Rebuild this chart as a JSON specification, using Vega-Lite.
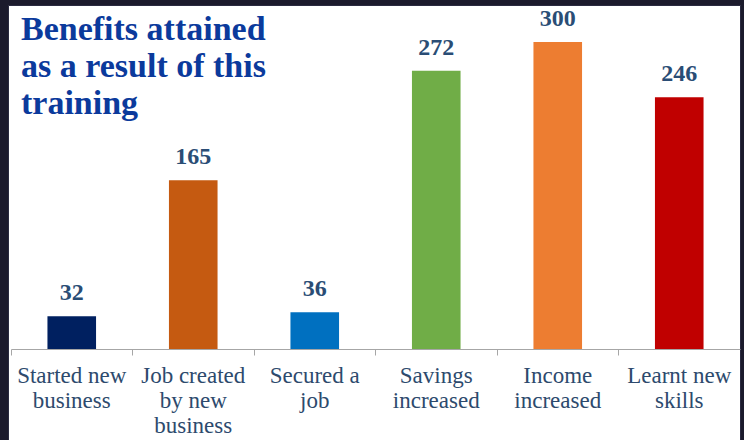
{
  "$schema": "https://vega.github.io/schema/vega-lite/v6.json",
  "autosize": {"type": "none"},
  "padding": {"left": 8, "top": 5, "right": 4, "bottom": 0},
  "width": 732,
  "height": 435,
  "background": "#1b1a2c",
  "config": {
    "view": {"fill": "#ffffff", "stroke": "#2a2a40", "strokeWidth": 1}
  },
  "title": {
    "text": ["Benefits attained", "as a result of this", "training"],
    "anchor": "start",
    "frame": "group",
    "orient": "top",
    "baseline": "top",
    "offset": 0,
    "dx": 13,
    "dy": 116,
    "font": "Liberation Serif",
    "fontSize": 34,
    "fontWeight": "bold",
    "color": "#0b3a9c",
    "lineHeight": 37
  },
  "data": {
    "values": [
      {"benefit": "Started new|business", "count": 32},
      {"benefit": "Job created|by new|business", "count": 165},
      {"benefit": "Secured a|job", "count": 36},
      {"benefit": "Savings|increased", "count": 272},
      {"benefit": "Income|increased", "count": 300},
      {"benefit": "Learnt new|skills", "count": 246}
    ]
  },
  "encoding": {
    "x": {
      "field": "benefit",
      "type": "nominal",
      "sort": null,
      "scale": {"range": [3, 732], "paddingInner": 0, "paddingOuter": 0},
      "axis": {
        "title": null,
        "orient": "bottom",
        "offset": -91,
        "labelAngle": 0,
        "bandPosition": 0,
        "domainColor": "#a6a6a6",
        "tickColor": "#a6a6a6",
        "tickSize": 6,
        "labelPadding": 9,
        "labelBaseline": "top",
        "labelAlign": "center",
        "labelFont": "Liberation Serif",
        "labelFontSize": 23,
        "labelColor": "#2d4a6d",
        "labelLineHeight": 25,
        "labelExpr": "split(datum.label, '|')",
        "labelOverlap": false,
        "labelBound": false,
        "labelFlush": false,
        "grid": false
      }
    },
    "y": {
      "field": "count",
      "type": "quantitative",
      "scale": {"domain": [-88.9, 336.2], "nice": false, "zero": false},
      "axis": null
    }
  },
  "layer": [
    {
      "mark": {"type": "bar", "width": {"band": 0.4}},
      "encoding": {
        "y2": {"datum": 0},
        "color": {
          "field": "benefit",
          "type": "nominal",
          "sort": null,
          "scale": {
            "domain": ["Started new|business", "Job created|by new|business", "Secured a|job", "Savings|increased", "Income|increased", "Learnt new|skills"],
            "range": ["#002060", "#c55a11", "#0070c0", "#70ad47", "#ed7d31", "#c00000"]
          },
          "legend": null
        }
      }
    },
    {
      "mark": {
        "type": "text",
        "baseline": "bottom",
        "dy": -11,
        "font": "Liberation Serif",
        "fontSize": 24,
        "fontWeight": "bold",
        "color": "#2a4d75"
      },
      "encoding": {"text": {"field": "count", "type": "quantitative"}}
    }
  ]
}
